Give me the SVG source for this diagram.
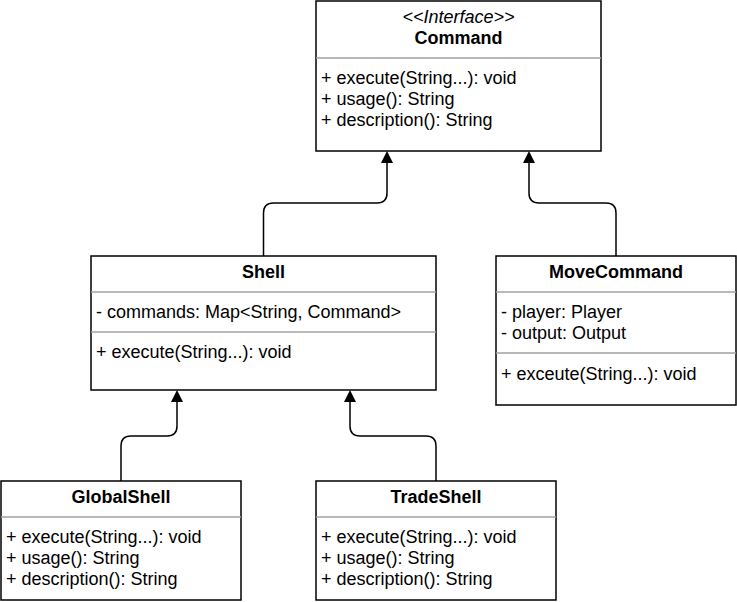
<svg xmlns="http://www.w3.org/2000/svg" width="737" height="602" viewBox="0 0 737 602">
<defs>
<style>
.box{fill:#fff;stroke:#000;stroke-width:1.5}
.div{stroke:#a0a0a0;stroke-width:1.5;fill:none}
.t{font-family:"Liberation Sans",Arial,sans-serif;font-size:18px;fill:#000}
.b{font-weight:bold;text-anchor:middle}
.i{font-style:italic;text-anchor:middle}
.edge{fill:none;stroke:#000;stroke-width:1.5}
</style>
<marker id="tri" viewBox="0 0 12 12" refX="0" refY="6" markerWidth="12" markerHeight="12" markerUnits="userSpaceOnUse" orient="auto">
<path d="M0,0 L12,6 L0,12 z" fill="#000"/>
</marker>
</defs>
<g id="connectors">
<path class="edge" d="M263.5,256 V213 Q263.5,203 273.5,203 H377 Q387,203 387,193 V163" marker-end="url(#tri)"/>
<path class="edge" d="M616,256 V213 Q616,203 606,203 H539 Q529,203 529,193 V163" marker-end="url(#tri)"/>
<path class="edge" d="M121,481 V446 Q121,436 131,436 H167 Q177,436 177,426 V402" marker-end="url(#tri)"/>
<path class="edge" d="M436,481 V446 Q436,436 426,436 H360 Q350,436 350,426 V402" marker-end="url(#tri)"/>
</g>
<g id="Command">
<rect class="box" x="316" y="1" width="285" height="150"/>
<line class="div" x1="316" y1="58" x2="601" y2="58"/>
<text class="t i" x="458.5" y="23">&lt;&lt;Interface&gt;&gt;</text>
<text class="t b" x="458.5" y="44">Command</text>
<text class="t" x="321" y="84">+ execute(String...): void</text>
<text class="t" x="321" y="105">+ usage(): String</text>
<text class="t" x="321" y="126">+ description(): String</text>
</g>
<g id="Shell">
<rect class="box" x="91" y="256" width="345" height="134"/>
<line class="div" x1="91" y1="292" x2="436" y2="292"/>
<line class="div" x1="91" y1="332" x2="436" y2="332"/>
<text class="t b" x="263.5" y="278">Shell</text>
<text class="t" x="96" y="318">- commands: Map&lt;String, Command&gt;</text>
<text class="t" x="96" y="358">+ execute(String...): void</text>
</g>
<g id="MoveCommand">
<rect class="box" x="496" y="256" width="240" height="149"/>
<line class="div" x1="496" y1="292" x2="736" y2="292"/>
<line class="div" x1="496" y1="353" x2="736" y2="353"/>
<text class="t b" x="616" y="278">MoveCommand</text>
<text class="t" x="501" y="318">- player: Player</text>
<text class="t" x="501" y="339">- output: Output</text>
<text class="t" x="501" y="380">+ exceute(String...): void</text>
</g>
<g id="GlobalShell">
<rect class="box" x="1" y="481" width="240" height="119"/>
<line class="div" x1="1" y1="517" x2="241" y2="517"/>
<text class="t b" x="121" y="503">GlobalShell</text>
<text class="t" x="6" y="543">+ execute(String...): void</text>
<text class="t" x="6" y="564">+ usage(): String</text>
<text class="t" x="6" y="585">+ description(): String</text>
</g>
<g id="TradeShell">
<rect class="box" x="316" y="481" width="240" height="119"/>
<line class="div" x1="316" y1="517" x2="556" y2="517"/>
<text class="t b" x="436" y="503">TradeShell</text>
<text class="t" x="321" y="543">+ execute(String...): void</text>
<text class="t" x="321" y="564">+ usage(): String</text>
<text class="t" x="321" y="585">+ description(): String</text>
</g>
</svg>
